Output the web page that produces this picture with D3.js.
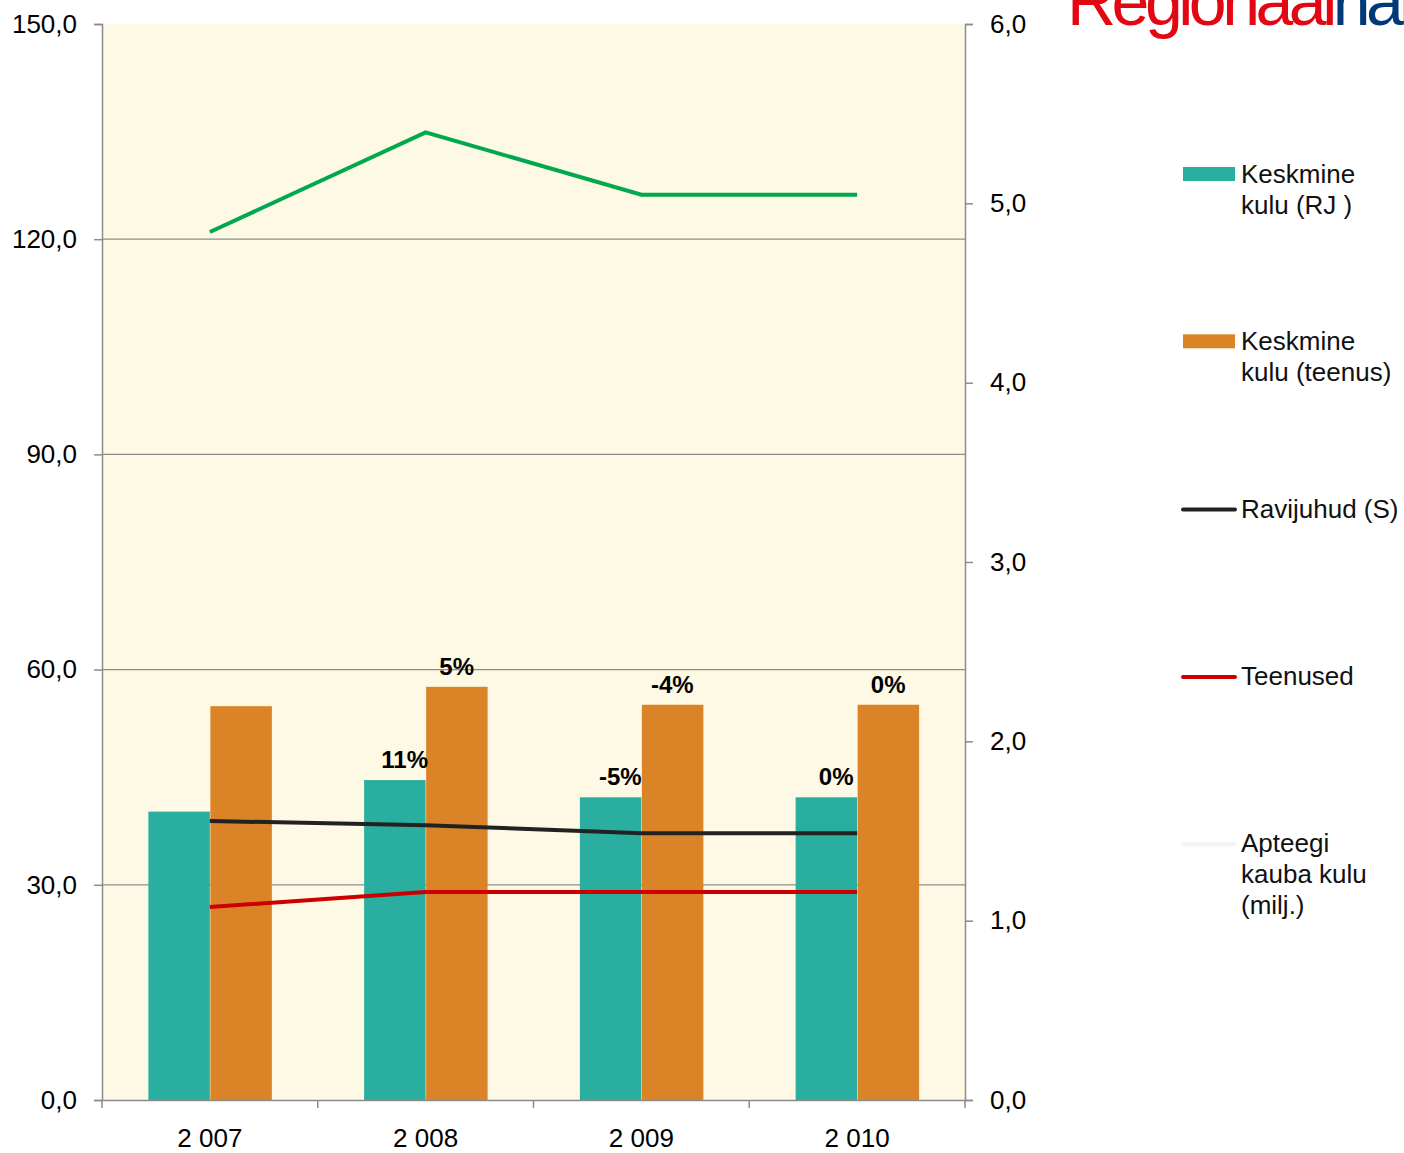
<!DOCTYPE html>
<html>
<head>
<meta charset="utf-8">
<script src="https://cdn.jsdelivr.net/npm/d3@7"></script>
<style>
  body { margin: 0; background: #fff; }
  svg text { font-family: "Liberation Sans", Arial, sans-serif; }
</style>
</head>
<body>
<div id="chart"></div>
<script>
// data
const years = ["2 007", "2 008", "2 009", "2 010"];
const kuluRJ = [40.2, 44.6, 42.2, 42.2];
const kuluTeenus = [54.9, 57.6, 55.1, 55.1];
const ravijuhud = [38.9, 38.3, 37.2, 37.2];
const teenused = [26.9, 29.0, 29.0, 29.0];
const apteegi = [121.0, 134.9, 126.2, 126.2];
const rjChange = ["", "11%", "-5%", "0%"];
const teenusChange = ["", "5%", "-4%", "0%"];
const leftTicks = [0, 30, 60, 90, 120, 150];
const rightTicks = [0, 1, 2, 3, 4, 5, 6];

const W = 1404, H = 1153;
const margin = {top: 24, right: 439, bottom: 53, left: 102};
const width = W - margin.left - margin.right,
      height = H - margin.top - margin.bottom;

const svg = d3.select("#chart").append("svg")
    .attr("width", W).attr("height", H);

// logo, cut off at the top
const logo = svg.append("text")
    .attr("x", 1067).attr("y", 25)
    .style("font-size", "68px")
    .style("letter-spacing", "-4.5px");
logo.append("tspan").attr("fill", "#E30613").text("Regionaal");
logo.append("tspan").attr("fill", "#003A78").text("haigla");

const g = svg.append("g")
    .attr("transform", "translate(" + margin.left + "," + margin.top + ")");

const x = d3.scaleBand().domain(years).range([0, width]);
const y = d3.scaleLinear().domain([0, 150]).range([height, 0]);
const yR = d3.scaleLinear().domain([0, 6]).range([height, 0]);

g.append("rect")
    .attr("width", width).attr("height", height)
    .attr("fill", "#FEF9E4");

// gridlines
g.selectAll(".grid").data(leftTicks.slice(1, -1)).join("line")
    .attr("x1", 0).attr("x2", width)
    .attr("y1", d => y(d)).attr("y2", d => y(d))
    .attr("stroke", "#8c8c8c").attr("stroke-width", 1.3);

// bars
const barW = 61.5;
g.selectAll(".rj").data(kuluRJ).join("rect")
    .attr("x", (d, i) => x(years[i]) + x.bandwidth() / 2 - barW)
    .attr("y", d => y(d))
    .attr("width", barW).attr("height", d => height - y(d))
    .attr("fill", "#2AAE9F");
g.selectAll(".teenus").data(kuluTeenus).join("rect")
    .attr("x", (d, i) => x(years[i]) + x.bandwidth() / 2 + 0.5)
    .attr("y", d => y(d))
    .attr("width", barW).attr("height", d => height - y(d))
    .attr("fill", "#DB8427");

// lines
const line = d3.line()
    .x((d, i) => x(years[i]) + x.bandwidth() / 2)
    .y(d => y(d));
[[apteegi, "#00A84F"], [ravijuhud, "#222222"], [teenused, "#CC0000"]].forEach(([s, c]) => {
    g.append("path").datum(s)
        .attr("d", line)
        .attr("fill", "none")
        .attr("stroke", c)
        .attr("stroke-width", 4);
});

// change labels
function labels(vals, change, dx) {
    g.selectAll(null).data(vals).join("text")
        .attr("x", (d, i) => x(years[i]) + x.bandwidth() / 2 + dx)
        .attr("y", d => y(d) - 12)
        .attr("text-anchor", "middle")
        .style("font-size", "24px").style("font-weight", "bold")
        .text((d, i) => change[i]);
}
labels(kuluRJ, rjChange, -21);
labels(kuluTeenus, teenusChange, 31);

// axes
const axisColor = "#8c8c8c";
const fmt = d => d3.format(".1f")(d).replace(".", ",");
const left = g.append("g")
    .call(d3.axisLeft(y).tickValues(leftTicks).tickSize(8).tickPadding(17).tickFormat(fmt));
const right = g.append("g").attr("transform", "translate(" + width + ",0)")
    .call(d3.axisRight(yR).tickValues(rightTicks).tickSize(8).tickPadding(17).tickFormat(fmt));
const bottom = g.append("g").attr("transform", "translate(0," + height + ")")
    .call(d3.axisBottom(x).tickSize(0).tickPadding(29));
// category boundary ticks
bottom.selectAll(".bt").data(d3.range(years.length + 1)).join("line")
    .attr("x1", i => i * x.step()).attr("x2", i => i * x.step())
    .attr("y1", 0).attr("y2", 8)
    .attr("stroke", axisColor).attr("stroke-width", 1.5);
[left, right, bottom].forEach(a => {
    a.selectAll("path").attr("stroke", axisColor).attr("stroke-width", 1.5);
    a.selectAll("line").attr("stroke", axisColor).attr("stroke-width", 1.5);
    a.selectAll("text").attr("fill", "#000").style("font-size", "26px")
        .style("font-family", "'Liberation Sans', Arial, sans-serif");
});

// legend
const legendItems = [
    {type: "rect", color: "#2AAE9F", lines: ["Keskmine", "kulu (RJ )"]},
    {type: "rect", color: "#DB8427", lines: ["Keskmine", "kulu (teenus)"]},
    {type: "line", color: "#222222", lines: ["Ravijuhud (S)"]},
    {type: "line", color: "#CC0000", lines: ["Teenused"]},
    {type: "line", color: "#f3f3f3", lines: ["Apteegi", "kauba kulu", "(milj.)"]}
];
const leg = svg.append("g").attr("transform", "translate(1183,0)");
legendItems.forEach((it, i) => {
    const cy = 174 + i * 167.3;
    if (it.type === "rect") {
        leg.append("rect").attr("x", 0).attr("y", cy - 7).attr("width", 52).attr("height", 14)
            .attr("fill", it.color);
    } else {
        leg.append("line").attr("x1", 0).attr("x2", 52).attr("y1", cy + 1).attr("y2", cy + 1)
            .attr("stroke", it.color).attr("stroke-width", 4).attr("stroke-linecap", "round");
    }
    const t = leg.append("text").attr("x", 58).attr("y", cy + 9)
        .style("font-size", "26px").attr("fill", "#111");
    it.lines.forEach((l, j) => {
        t.append("tspan").attr("x", 58).attr("dy", j === 0 ? 0 : 31).text(l);
    });
});
</script>
</body>
</html>
